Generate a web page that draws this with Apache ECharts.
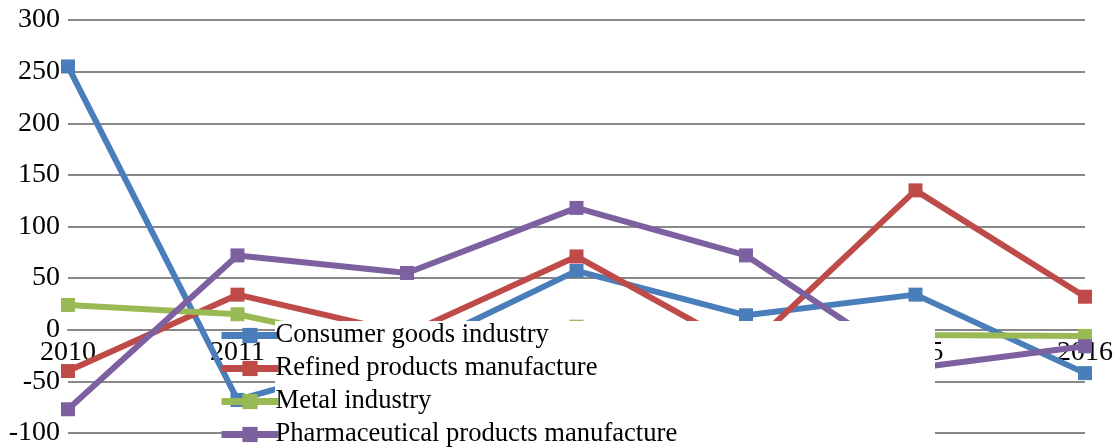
<!DOCTYPE html>
<html><head><meta charset="utf-8">
<script src="https://cdn.jsdelivr.net/npm/echarts@6/dist/echarts.min.js"></script>
<style>html,body{margin:0;padding:0;background:#fff}#c{width:1117px;height:448px}</style>
</head><body><div id="c"></div>
<script>
const categories = ['2010','2011','2012','2013','2014','2015','2016'];
const consumerGoods = [255, -68, -22, 57, 14, 34, -42];
const refinedProducts = [-40, 34, -4, 71, -20, 135, 32];
const metalIndustry = [24, 15, -20, 3, -3, -5, -6];
const pharmaceutical = [-77, 72, 55, 118, 72, -37, -16];
const seriesNames = ['Consumer goods industry','Refined products manufacture','Metal industry','Pharmaceutical products manufacture'];
const colors = ['#4a7ebb','#be4b48','#98b954','#7d60a0'];
const font = '"Liberation Serif", "DejaVu Serif", serif';
const chart = echarts.init(document.getElementById('c'));
const mk = (name, data, color) => ({
  name, type: 'line', data, symbol: 'rect', symbolSize: 14,
  itemStyle: { color }, lineStyle: { color, width: 6 }, z: 2, animation: false
});
chart.setOption({
  animation: false,
  grid: { left: 68, right: 32, top: 20, bottom: 15, containLabel: false, outerBoundsMode: 'none' },
  xAxis: {
    type: 'category', data: categories, boundaryGap: false, offset: -103,
    axisLine: { show: true, onZero: false, lineStyle: { color: '#888', width: 2 } },
    axisTick: { show: false },
    axisLabel: { color: '#000', fontFamily: font, fontSize: 28, margin: 9 },
    splitLine: { show: false }
  },
  yAxis: {
    type: 'value', min: -100, max: 300, interval: 50,
    axisLine: { show: false }, axisTick: { show: false },
    axisLabel: { color: '#000', fontFamily: font, fontSize: 28, margin: 8 },
    splitLine: { lineStyle: { color: '#888', width: 2 } }
  },
  legend: {
    orient: 'vertical', left: 218, top: 322, z: 20,
    itemWidth: 57, itemHeight: 19, itemGap: 6, padding: 0,
    lineStyle: { width: 7 },
    textStyle: { color: '#000', fontFamily: font, fontSize: 26.6, lineHeight: 27, padding: [0, 0, 0, -8] },
    data: seriesNames
  },
  graphic: [{
    type: 'rect', z: 10, silent: true,
    shape: { x: 275, y: 321, width: 660, height: 127 },
    style: { fill: '#fff' }
  }],
  series: [
    mk(seriesNames[0], consumerGoods, colors[0]),
    mk(seriesNames[1], refinedProducts, colors[1]),
    mk(seriesNames[2], metalIndustry, colors[2]),
    mk(seriesNames[3], pharmaceutical, colors[3])
  ]
});
</script></body></html>
